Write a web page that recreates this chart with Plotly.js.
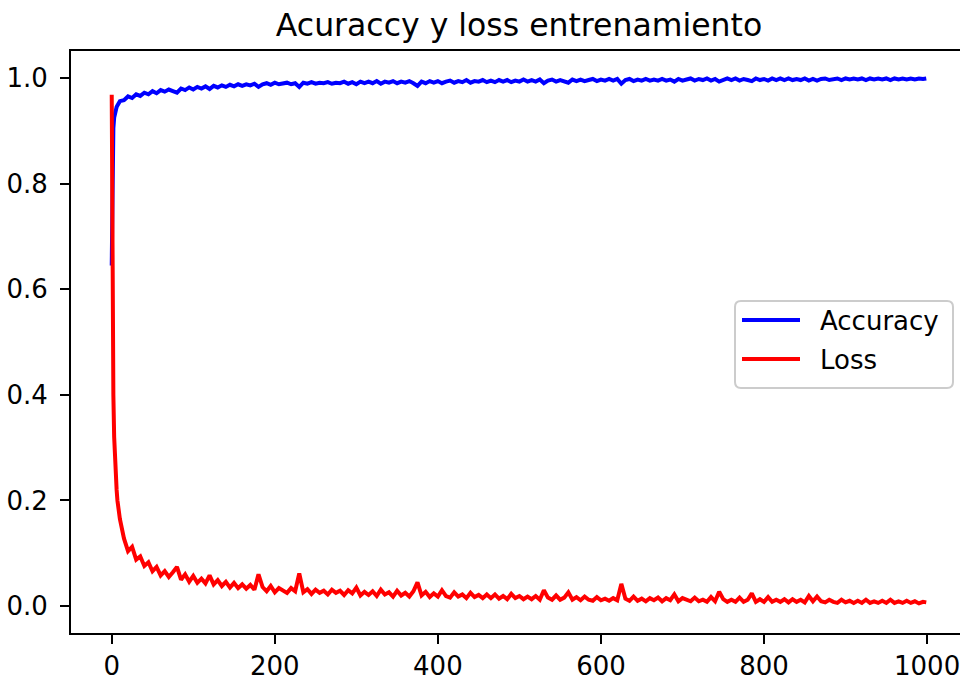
<!DOCTYPE html>
<html>
<head>
<meta charset="utf-8">
<script src="https://cdn.plot.ly/plotly-3.0.1.min.js"></script>
<style>
html, body { margin: 0; padding: 0; width: 960px; height: 680px; overflow: hidden; background: #fff; }
#chart { width: 980px; height: 680px; }
</style>
</head>
<body>
<div id="chart"></div>
<script>
const chartTitle = 'Acuraccy y loss entrenamiento';
const seriesNames = ['Accuracy', 'Loss'];
const seriesColors = ['#0000ff', '#ff0000'];
const xTickVals = [0, 200, 400, 600, 800, 1000];
const yTickVals = [0.0, 0.2, 0.4, 0.6, 0.8, 1.0];

const epochs = [
  0, 1, 2, 3, 4, 5, 6, 7, 8, 9, 10,
  15, 20, 25, 30, 35, 40, 45, 50, 55, 60,
  65, 70, 75, 80, 85, 90, 95, 100, 105, 110,
  115, 120, 125, 130, 135, 140, 145, 150, 155, 160,
  165, 170, 175, 180, 185, 190, 195, 200, 205, 210,
  215, 220, 225, 230, 235, 240, 245, 250, 255, 260,
  265, 270, 275, 280, 285, 290, 295, 300, 305, 310,
  315, 320, 325, 330, 335, 340, 345, 350, 355, 360,
  365, 370, 375, 380, 385, 390, 395, 400, 405, 410,
  415, 420, 425, 430, 435, 440, 445, 450, 455, 460,
  465, 470, 475, 480, 485, 490, 495, 500, 505, 510,
  515, 520, 525, 530, 535, 540, 545, 550, 555, 560,
  565, 570, 575, 580, 585, 590, 595, 600, 605, 610,
  615, 620, 625, 630, 635, 640, 645, 650, 655, 660,
  665, 670, 675, 680, 685, 690, 695, 700, 705, 710,
  715, 720, 725, 730, 735, 740, 745, 750, 755, 760,
  765, 770, 775, 780, 785, 790, 795, 800, 805, 810,
  815, 820, 825, 830, 835, 840, 845, 850, 855, 860,
  865, 870, 875, 880, 885, 890, 895, 900, 905, 910,
  915, 920, 925, 930, 935, 940, 945, 950, 955, 960,
  965, 970, 975, 980, 985, 990, 995, 999
];

const accuracy = [
  0.645, 0.86, 0.905, 0.925, 0.935, 0.94, 0.945, 0.948, 0.951, 0.953, 0.956,
  0.958, 0.965, 0.962, 0.969, 0.966, 0.972, 0.969, 0.975, 0.971, 0.977,
  0.974, 0.978, 0.975, 0.972, 0.980, 0.977, 0.982, 0.978, 0.983, 0.980,
  0.984, 0.979, 0.985, 0.982, 0.986, 0.983, 0.987, 0.984, 0.988, 0.985,
  0.988, 0.986, 0.989, 0.983, 0.988, 0.990, 0.987, 0.991, 0.988, 0.990,
  0.991, 0.988, 0.990, 0.983, 0.991, 0.989, 0.992, 0.989, 0.991, 0.990,
  0.992, 0.989, 0.991, 0.990, 0.993, 0.989, 0.992, 0.988, 0.993, 0.990,
  0.993, 0.990, 0.994, 0.989, 0.993, 0.991, 0.994, 0.990, 0.993, 0.991,
  0.994, 0.990, 0.985, 0.993, 0.990, 0.994, 0.991, 0.994, 0.990, 0.993,
  0.995, 0.991, 0.994, 0.992, 0.996, 0.991, 0.994, 0.993, 0.996, 0.992,
  0.995, 0.992, 0.996, 0.993, 0.996, 0.992, 0.995, 0.993, 0.997, 0.993,
  0.996, 0.993, 0.997, 0.990, 0.995, 0.997, 0.993, 0.996, 0.994, 0.991,
  0.997, 0.994, 0.997, 0.994, 0.996, 0.998, 0.994, 0.997, 0.995, 0.998,
  0.995, 0.998, 0.989, 0.996, 0.998, 0.994, 0.997, 0.995, 0.998, 0.995,
  0.997, 0.995, 0.998, 0.995, 0.997, 0.993, 0.998, 0.995, 0.997, 0.999,
  0.995, 0.998, 0.996, 0.999, 0.995, 0.998, 0.993, 0.997, 0.999, 0.996,
  0.999, 0.995, 0.998, 0.996, 0.994, 0.999, 0.996, 0.998, 0.995, 0.999,
  0.996, 0.999, 0.996, 0.999, 0.996, 0.998, 0.996, 0.999, 0.995, 0.998,
  0.995, 0.998, 0.999, 0.996, 0.998, 0.999, 0.996, 0.999, 0.997, 0.999,
  0.997, 0.999, 0.996, 0.999, 0.997, 0.999, 0.997, 0.999, 0.996, 0.999,
  0.997, 0.999, 0.997, 0.999, 0.997, 0.999, 0.998, 0.999
];

const loss = [
  0.968, 0.55, 0.40, 0.32, 0.27, 0.24, 0.22, 0.20, 0.185, 0.175, 0.165,
  0.128, 0.104, 0.112, 0.088, 0.094, 0.076, 0.083, 0.066, 0.074, 0.058,
  0.066, 0.055, 0.064, 0.074, 0.050, 0.060, 0.046, 0.057, 0.044, 0.052,
  0.043, 0.058, 0.041, 0.049, 0.038, 0.046, 0.035, 0.044, 0.034, 0.041,
  0.033, 0.040, 0.031, 0.060, 0.036, 0.028, 0.038, 0.026, 0.034, 0.029,
  0.025, 0.034, 0.028, 0.062, 0.026, 0.032, 0.023, 0.031, 0.025, 0.029,
  0.022, 0.031, 0.025, 0.029, 0.021, 0.030, 0.024, 0.035, 0.020, 0.027,
  0.021, 0.028, 0.019, 0.031, 0.022, 0.026, 0.018, 0.029, 0.020, 0.025,
  0.018, 0.028, 0.045, 0.020, 0.027, 0.017, 0.024, 0.018, 0.030, 0.019,
  0.016, 0.026, 0.018, 0.022, 0.015, 0.025, 0.017, 0.021, 0.015, 0.022,
  0.015, 0.022, 0.014, 0.019, 0.013, 0.023, 0.015, 0.019, 0.013, 0.018,
  0.013, 0.019, 0.012, 0.030, 0.016, 0.012, 0.020, 0.012, 0.016, 0.026,
  0.012, 0.017, 0.011, 0.018, 0.012, 0.010, 0.017, 0.011, 0.014, 0.010,
  0.015, 0.011, 0.042, 0.014, 0.010, 0.018, 0.010, 0.014, 0.009, 0.015,
  0.011, 0.016, 0.009, 0.015, 0.011, 0.022, 0.009, 0.015, 0.011, 0.009,
  0.016, 0.009, 0.012, 0.008, 0.017, 0.009, 0.027, 0.013, 0.008, 0.012,
  0.008, 0.016, 0.008, 0.012, 0.024, 0.008, 0.013, 0.008, 0.017, 0.008,
  0.012, 0.008, 0.013, 0.007, 0.013, 0.008, 0.012, 0.007, 0.019, 0.009,
  0.018, 0.009, 0.007, 0.012, 0.008, 0.006, 0.012, 0.007, 0.010, 0.006,
  0.010, 0.006, 0.012, 0.006, 0.009, 0.006, 0.010, 0.006, 0.012, 0.006,
  0.009, 0.006, 0.010, 0.006, 0.009, 0.005, 0.008, 0.007
];

const FONT = 'DejaVu Sans, Liberation Sans, sans-serif';

// plot-area geometry (pixels)
const W = 980, H = 680;
const M = { l: 71, r: 13, t: 51, b: 47 };
const PW = W - M.l - M.r, PH = H - M.t - M.b;
const px = v => (v - M.l) / PW;          // pixel x -> paper x
const py = v => (H - M.b - v) / PH;      // pixel y -> paper y

const traces = [
  { x: epochs, y: accuracy, name: seriesNames[0], type: 'scatter', mode: 'lines',
    line: { color: seriesColors[0], width: 4 }, showlegend: false },
  { x: epochs, y: loss, name: seriesNames[1], type: 'scatter', mode: 'lines',
    line: { color: seriesColors[1], width: 4 }, showlegend: false }
];

const axisCommon = {
  showline: true, linecolor: '#000', linewidth: 2, mirror: true,
  ticks: 'outside', ticklen: 9, tickwidth: 2, tickcolor: '#000',
  showgrid: false, zeroline: false,
  tickfont: { family: FONT, size: 26, color: '#000' }
};

// legend box (matplotlib-style, rounded corners)
const LB = { x0: 735, x1: 953, y0: 301, y1: 388, r: 6 };
const rx = LB.r / PW, ry = LB.r / PH;
const bx0 = px(LB.x0), bx1 = px(LB.x1), by0 = py(LB.y1), by1 = py(LB.y0);
const boxPath =
  `M${bx0 + rx},${by0} L${bx1 - rx},${by0} Q${bx1},${by0} ${bx1},${by0 + ry} ` +
  `L${bx1},${by1 - ry} Q${bx1},${by1} ${bx1 - rx},${by1} ` +
  `L${bx0 + rx},${by1} Q${bx0},${by1} ${bx0},${by1 - ry} ` +
  `L${bx0},${by0 + ry} Q${bx0},${by0} ${bx0 + rx},${by0} Z`;

const legendRows = [320, 359];
const shapes = [
  { type: 'path', xref: 'paper', yref: 'paper', path: boxPath,
    fillcolor: 'rgba(255,255,255,0.8)', line: { color: '#cccccc', width: 2 }, layer: 'above' }
];
const annotations = [];
seriesNames.forEach((nm, i) => {
  shapes.push({ type: 'line', xref: 'paper', yref: 'paper',
    x0: px(742), x1: px(800), y0: py(legendRows[i]), y1: py(legendRows[i]),
    line: { color: seriesColors[i], width: 4 }, layer: 'above' });
  annotations.push({ xref: 'paper', yref: 'paper', x: px(818), y: py(legendRows[i] + 1),
    xanchor: 'left', yanchor: 'middle', text: nm, showarrow: false,
    font: { family: FONT, size: 26, color: '#000' } });
});

const layout = {
  width: W, height: H,
  margin: M,
  paper_bgcolor: '#fff', plot_bgcolor: '#fff',
  title: { text: chartTitle, font: { family: FONT, size: 31.5, color: '#000' },
           x: 0.5, xref: 'paper', xanchor: 'center', y: 1 - 25 / 680, yref: 'container', yanchor: 'middle' },
  xaxis: Object.assign({}, axisCommon, { range: [-49.95, 1048.95], tickvals: xTickVals }),
  yaxis: Object.assign({}, axisCommon, { range: [-0.051, 1.051], tickvals: yTickVals, tickformat: '.1f',
                                         ticklabelstandoff: 7 }),
  showlegend: false,
  shapes: shapes,
  annotations: annotations
};

Plotly.newPlot('chart', traces, layout, { displayModeBar: false, staticPlot: true });
</script>
</body>
</html>
